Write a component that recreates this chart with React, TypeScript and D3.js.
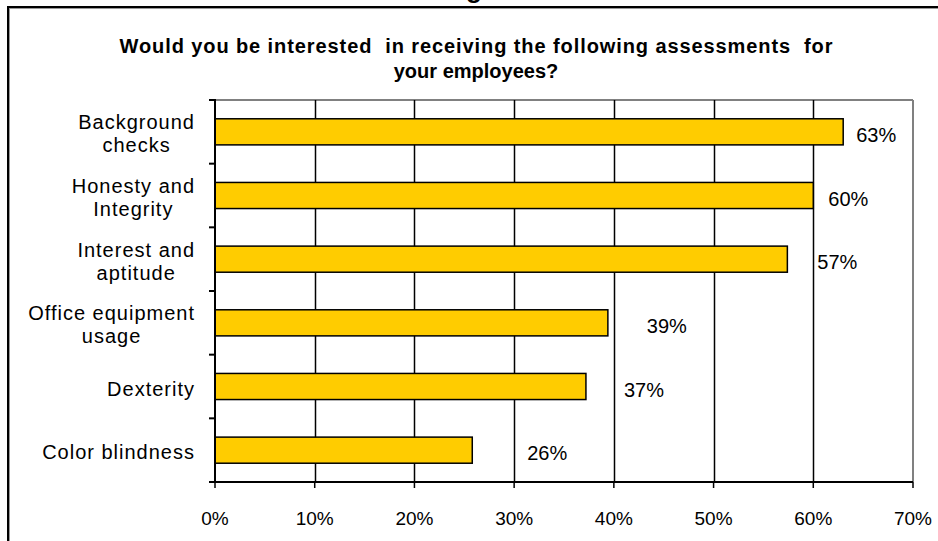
import React from "react";
import * as d3 from "d3";

const categories: string[] = [
  "Background\nchecks",
  "Honesty and\nIntegrity",
  "Interest and\naptitude",
  "Office equipment\nusage",
  "Dexterity",
  "Color blindness",
];
const values: number[] = [0.63, 0.6, 0.574, 0.394, 0.372, 0.258];
const valueLabels: string[] = ["63%", "60%", "57%", "39%", "37%", "26%"];
const xTicks: number[] = [0, 0.1, 0.2, 0.3, 0.4, 0.5, 0.6, 0.7];
const titleLines: string[] = [
  "Would you be interested  in receiving the following assessments  for",
  "your employees?",
];
// layout-only: title line widths and label nudges (px right of bar end)
const titleWidths: (number | undefined)[] = [713, undefined];
const labelDx: number[] = [13, 15, 30, 39, 38, 55];

const W = 938;
const H = 541;
const M = { left: 215, right: 913, top: 100, bottom: 482 };
const FONT = "Arial, 'Liberation Sans', sans-serif";
const CAT_SIZE = 20;
const CAT_LS = 1;

function measure(text: string, font: string, ls: number): number {
  const c = document.createElement("canvas");
  const ctx = c.getContext("2d")!;
  ctx.font = font;
  return ctx.measureText(text).width + ls * text.length;
}

export default function App() {
  const x = d3.scaleLinear().domain([0, 0.7]).range([M.left, M.right]);
  const y = d3
    .scaleBand<string>()
    .domain(categories)
    .range([M.top, M.bottom])
    .padding(0);
  const bw = y.bandwidth();
  const barH = bw * 0.41;
  const bandEdges = d3.range(categories.length + 1).map((i) => M.top + i * bw);

  return (
    <svg
      width={W}
      height={H}
      style={{ position: "absolute", left: 0, top: 0, background: "#fff" }}
      fontFamily={FONT}
    >
      <rect x={0} y={0} width={W} height={H} fill="#fff" />
      {/* cropped outer title fragment */}
      <text x={474} y={-2} fontSize={26} fontWeight="bold" textAnchor="middle" fill="#000">
        g
      </text>
      {/* outer frame */}
      <rect x={8} y={7} width={1000} height={600} fill="none" stroke="#000" strokeWidth={2} />
      <rect x={9.5} y={8.5} width={1000} height={600} fill="none" stroke="#999" strokeWidth={1} />

      {/* title */}
      {titleLines.map((t, i) => (
        <text
          key={i}
          x={476}
          y={53 + i * 25}
          textAnchor="middle"
          fontSize={20}
          fontWeight="bold"
          fill="#000"
          textLength={titleWidths[i]}
          lengthAdjust="spacing"
          style={{ whiteSpace: "pre" }}
        >
          {t}
        </text>
      ))}

      {/* plot border (gray) */}
      <line x1={M.left} x2={M.right} y1={M.top} y2={M.top} stroke="#808080" strokeWidth={2} />
      <line x1={M.right} x2={M.right} y1={M.top} y2={M.bottom} stroke="#808080" strokeWidth={2} />

      {/* gridlines */}
      {xTicks.slice(1, -1).map((t) => (
        <line
          key={t}
          x1={Math.round(x(t)) + 0.5}
          x2={Math.round(x(t)) + 0.5}
          y1={M.top}
          y2={M.bottom}
          stroke="#000"
          strokeWidth={1.5}
        />
      ))}

      {/* bars */}
      {categories.map((c, i) => {
        const cy = (y(c) as number) + bw / 2;
        return (
          <rect
            key={c}
            x={x(0)}
            y={cy - barH / 2}
            width={x(values[i]) - x(0)}
            height={barH}
            fill="#FFCC00"
            stroke="#000"
            strokeWidth={1.5}
          />
        );
      })}

      {/* value labels */}
      {categories.map((c, i) => {
        const cy = (y(c) as number) + bw / 2;
        return (
          <text
            key={c}
            x={x(values[i]) + labelDx[i]}
            y={cy + 3}
            dominantBaseline="central"
            fontSize={20}
            fill="#000"
          >
            {valueLabels[i]}
          </text>
        );
      })}

      {/* axes */}
      <line x1={M.left} x2={M.left} y1={M.top - 1} y2={M.bottom + 1} stroke="#000" strokeWidth={2} />
      <line x1={M.left} x2={M.right} y1={M.bottom} y2={M.bottom} stroke="#000" strokeWidth={2} />
      {bandEdges.map((e, i) => (
        <line key={i} x1={M.left - 6} x2={M.left} y1={e} y2={e} stroke="#000" strokeWidth={2} />
      ))}
      {xTicks.map((t) => (
        <g key={t}>
          <line x1={x(t)} x2={x(t)} y1={M.bottom} y2={M.bottom + 6} stroke="#000" strokeWidth={1.5} />
          <text
            x={x(t)}
            y={518}
            textAnchor="middle"
            dominantBaseline="central"
            fontSize={19}
            fill="#000"
          >
            {d3.format(".0%")(t)}
          </text>
        </g>
      ))}

      {/* category labels */}
      {categories.map((c) => {
        const lines = c.split("\n");
        const font = `${CAT_SIZE}px Arial, 'Liberation Sans', sans-serif`;
        const maxW = Math.max(...lines.map((l) => measure(l, font, CAT_LS)));
        const cx = 195 - maxW / 2;
        const cy = (y(c) as number) + bw / 2 + 2;
        const lh = 23;
        return (
          <text
            key={c}
            textAnchor="middle"
            fontSize={CAT_SIZE}
            letterSpacing={CAT_LS}
            fill="#000"
          >
            {lines.map((l, j) => (
              <tspan
                key={j}
                x={cx}
                y={cy + (j - (lines.length - 1) / 2) * lh}
                dominantBaseline="central"
              >
                {l}
              </tspan>
            ))}
          </text>
        );
      })}
    </svg>
  );
}
